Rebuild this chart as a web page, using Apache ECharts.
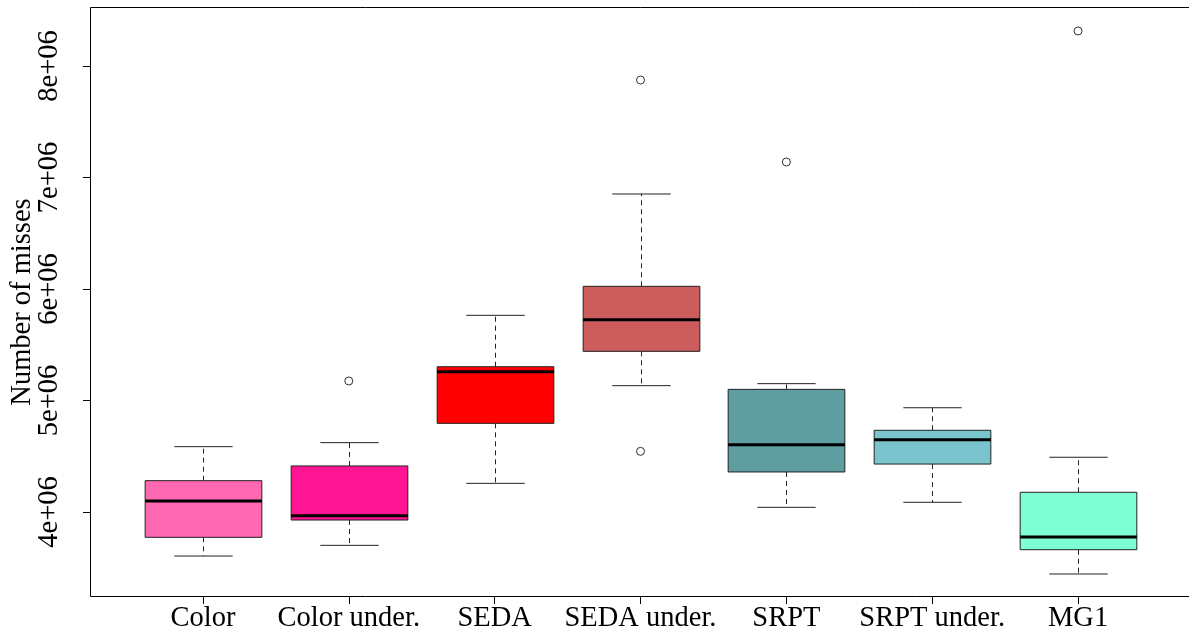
<!DOCTYPE html>
<html>
<head>
<meta charset="utf-8">
<script src="https://cdn.jsdelivr.net/npm/echarts@6/dist/echarts.min.js"></script>
<style>
  html, body { margin: 0; padding: 0; background: #fff; }
  #chart { width: 1189px; height: 638px; }
</style>
</head>
<body>
<div id="chart"></div>
<script>
// groups on the x axis
const categories = ['Color', 'Color under.', 'SEDA', 'SEDA under.', 'SRPT', 'SRPT under.', 'MG1']
// five number summary per group (number of misses)
const whiskerLow = [3.605e6, 3.701e6, 4.257e6, 5.133e6, 4.042e6, 4.087e6, 3.444e6]
const q1 = [3.773e6, 3.928e6, 4.795e6, 5.441e6, 4.359e6, 4.430e6, 3.662e6]
const median = [4.099e6, 3.967e6, 5.258e6, 5.725e6, 4.604e6, 4.648e6, 3.776e6]
const q3 = [4.281e6, 4.413e6, 5.303e6, 6.024e6, 5.100e6, 4.733e6, 4.177e6]
const whiskerHigh = [4.586e6, 4.622e6, 5.764e6, 6.852e6, 5.151e6, 4.935e6, 4.491e6]
// outliers
const outlierGroup = ['Color under.', 'SEDA under.', 'SEDA under.', 'SRPT', 'MG1']
const outlierValue = [5.175e6, 7.874e6, 4.544e6, 7.139e6, 8.314e6]
// y tick values
const yTicks = [4e6, 5e6, 6e6, 7e6, 8e6]

const boxColors = ['#FF69B4', '#FF1493', '#FF0000', '#CD5C5C', '#5F9EA0', '#7AC5CD', '#7FFFD4']
const font = "'Liberation Serif', 'Times New Roman', serif"
const fontSize = 28.5

const boxData = categories.map((c, i) => [i, whiskerLow[i], q1[i], median[i], q3[i], whiskerHigh[i]])
const outlierData = outlierGroup.map((g, i) => [g, outlierValue[i]])

function renderBox(params, api) {
  const i = api.value(0)
  const band = api.size([1, 0])[0]
  const bw = band * 0.8
  const x = Math.round(api.coord([i, 0])[0]) + 0.5
  const y = (v) => api.coord([i, v])[1]
  const yLo = y(api.value(1))
  const yQ1 = y(api.value(2))
  const yMed = y(api.value(3))
  const yQ3 = y(api.value(4))
  const yHi = y(api.value(5))
  const whisk = { stroke: '#222', lineWidth: 1, lineDash: [5, 4] }
  const cap = { stroke: '#222', lineWidth: 1 }
  return {
    type: 'group',
    children: [
      { type: 'line', shape: { x1: x, y1: yQ3, x2: x, y2: yHi }, style: whisk },
      { type: 'line', shape: { x1: x, y1: yQ1, x2: x, y2: yLo }, style: whisk },
      { type: 'line', shape: { x1: x - bw / 4, y1: yHi, x2: x + bw / 4, y2: yHi }, style: cap },
      { type: 'line', shape: { x1: x - bw / 4, y1: yLo, x2: x + bw / 4, y2: yLo }, style: cap },
      {
        type: 'rect',
        shape: { x: x - bw / 2, y: yQ3, width: bw, height: yQ1 - yQ3 },
        style: { fill: boxColors[params.dataIndex], stroke: '#222', lineWidth: 1 }
      },
      { type: 'line', shape: { x1: x - bw / 2, y1: yMed, x2: x + bw / 2, y2: yMed }, style: { stroke: '#000', lineWidth: 3 } }
    ]
  }
}

const chart = echarts.init(document.getElementById('chart'))
chart.setOption({
  animation: false,
  backgroundColor: '#fff',
  grid: { left: 130, right: 38, top: 7, bottom: 41, outerBoundsMode: 'none', containLabel: false },
  xAxis: {
    type: 'category',
    data: categories,
    axisLine: { show: false },
    axisTick: { show: true, alignWithLabel: true, length: 7, lineStyle: { color: '#000' } },
    axisLabel: { interval: 0, margin: 7, color: '#000', fontSize: fontSize, fontFamily: font },
    splitLine: { show: false }
  },
  yAxis: {
    type: 'value',
    min: 3.2377e6,
    max: 8.5291e6,
    offset: 40,
    axisLine: { show: false },
    axisTick: { show: true, length: 7, customValues: yTicks, lineStyle: { color: '#000' } },
    axisLabel: {
      customValues: yTicks,
      rotate: 90,
      margin: 26,
      color: '#000',
      fontSize: fontSize,
      fontFamily: font,
      formatter: (v) => (v / 1e6) + 'e+06'
    },
    splitLine: { show: false },
    name: 'Number of misses',
    nameLocation: 'middle',
    nameRotate: 90,
    nameGap: 53,
    nameMoveOverlap: false,
    nameTextStyle: { color: '#000', fontSize: fontSize, fontFamily: font }
  },
  graphic: [{
    type: 'rect',
    shape: { x: 90.5, y: 7.5, width: 1110, height: 589 },
    style: { fill: 'none', stroke: '#000', lineWidth: 1 },
    silent: true
  }],
  series: [
    {
      type: 'custom',
      data: boxData,
      encode: { x: 0, y: [1, 2, 3, 4, 5] },
      renderItem: renderBox
    },
    {
      type: 'scatter',
      data: outlierData,
      symbol: 'circle',
      symbolSize: 8,
      itemStyle: { color: '#fff', borderColor: '#000', borderWidth: 1 }
    }
  ]
})
</script>
</body>
</html>
